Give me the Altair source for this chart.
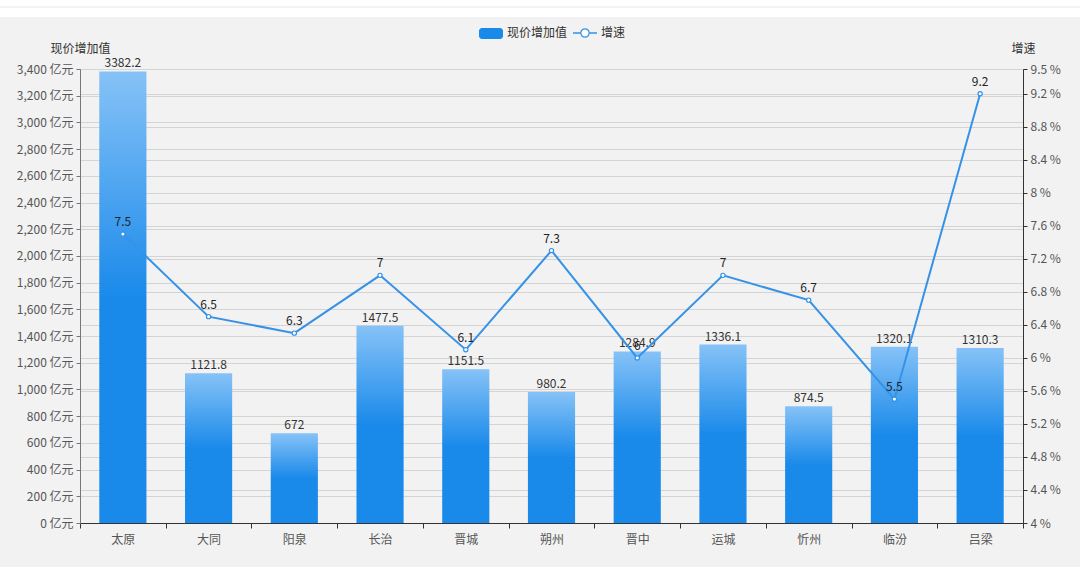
import altair as alt
import pandas as pd

cities = ["太原", "大同", "阳泉", "长治", "晋城", "朔州", "晋中", "运城", "忻州", "临汾", "吕梁"]
values = [3382.2, 1121.8, 672, 1477.5, 1151.5, 980.2, 1284.9, 1336.1, 874.5, 1320.1, 1310.3]
growth = [7.5, 6.5, 6.3, 7, 6.1, 7.3, 6, 7, 6.7, 5.5, 9.2]
left_ticks = list(range(0, 3401, 200))
right_ticks = [4, 4.4, 4.8, 5.2, 5.6, 6, 6.4, 6.8, 7.2, 7.6, 8, 8.4, 8.8, 9.2, 9.5]

df = pd.DataFrame({"city": cities, "value": values, "growth": growth})

FONT = "Noto Sans CJK SC"
W, H = 943, 454
BLUE = "#1a8aea"
LINE = "#3592e6"

x_enc = alt.X("city:N", sort=cities, title=None,
              scale=alt.Scale(paddingInner=0, paddingOuter=0),
              axis=alt.Axis(labelAngle=0, tickBand="extent", domainColor="#333333",
                            tickColor="#333333", tickSize=5, labelPadding=6,
                            labelFontSize=12, labelColor="#555555", grid=False))

y_left = alt.Y("value:Q", title="现价增加值",
               scale=alt.Scale(domain=[0, 3400], nice=False),
               axis=alt.Axis(values=left_ticks, labelOverlap=False,
                             labelExpr="format(datum.value, ',') + ' 亿元'",
                             titleAngle=0, titleX=0, titleY=-21, titleAlign="center",
                             titleBaseline="middle", titleFontWeight="normal",
                             titleFontSize=12, titleColor="#333333",
                             labelFontSize=12, labelColor="#555555",
                             domainColor="#777777", tickColor="#777777", tickSize=4,
                             labelPadding=3, gridColor="#d4d4d4", grid=True))

bar_grad = alt.Gradient(gradient="linear", x1=0, x2=0, y1=0, y2=1,
                        stops=[alt.GradientStop(color="#86c2f7", offset=0),
                               alt.GradientStop(color=BLUE, offset=0.5),
                               alt.GradientStop(color=BLUE, offset=1)])

base = alt.Chart(df)
bars = base.mark_bar(color=bar_grad, width=alt.RelativeBandSize(0.55)).encode(x=x_enc, y=y_left)
bar_labels = base.mark_text(dy=-8, fontSize=12, color="#333333", font=FONT).encode(
    x=alt.X("city:N", sort=cities), y=y_left, text=alt.Text("value:Q"))
left_layer = alt.layer(bars, bar_labels)

y_right = alt.Y("growth:Q", title="增速",
                scale=alt.Scale(domain=[4, 9.5], nice=False, zero=False),
                axis=alt.Axis(orient="right", values=right_ticks, labelOverlap=False,
                              labelExpr="datum.value + ' %'",
                              titleAngle=0, titleX=0, titleY=-21, titleAlign="center",
                              titleBaseline="middle", titleFontWeight="normal",
                              titleFontSize=12, titleColor="#333333",
                              labelFontSize=12, labelColor="#555555",
                              domainColor="#333333", tickColor="#333333", tickSize=4,
                              labelPadding=3, gridColor="#d4d4d4", grid=True))

line = base.mark_line(color=LINE, strokeWidth=2).encode(x=alt.X("city:N", sort=cities), y=y_right)
pts = base.mark_point(filled=True, fill="white", stroke=LINE, strokeWidth=1.2, size=18, opacity=1).encode(
    x=alt.X("city:N", sort=cities), y=y_right)
line_labels = base.mark_text(dy=-12, fontSize=12, color="#222222", font=FONT).encode(
    x=alt.X("city:N", sort=cities), y=y_right, text=alt.Text("growth:Q"))
right_layer = alt.layer(line, pts, line_labels)

# decorations: top white strip and legend
top_white = alt.Chart(pd.DataFrame({"a": [0]})).mark_rect(color="white").encode(
    x=alt.value(-80), x2=alt.value(1000), y=alt.value(-69), y2=alt.value(-52))
top_line = alt.Chart(pd.DataFrame({"a": [0]})).mark_rule(color="#e6e6e6", strokeWidth=1).encode(
    x=alt.value(-80), x2=alt.value(1000), y=alt.value(-62))
leg_rect = alt.Chart(pd.DataFrame({"a": [0]})).mark_rect(color=BLUE, cornerRadius=3).encode(
    x=alt.value(399), x2=alt.value(423), y=alt.value(-41), y2=alt.value(-30))
leg_text1 = alt.Chart(pd.DataFrame({"t": ["现价增加值"]})).mark_text(
    align="left", baseline="middle", fontSize=12, color="#333333", font=FONT).encode(
    x=alt.value(427), y=alt.value(-36), text="t:N")
leg_line = alt.Chart(pd.DataFrame({"a": [0]})).mark_rule(color=LINE, strokeWidth=1.5).encode(
    x=alt.value(493), x2=alt.value(517), y=alt.value(-36))
leg_pt = alt.Chart(pd.DataFrame({"a": [0]})).mark_point(
    filled=True, fill="white", stroke=LINE, strokeWidth=1.2, size=70, opacity=1).encode(
    x=alt.value(505), y=alt.value(-36))
leg_text2 = alt.Chart(pd.DataFrame({"t": ["增速"]})).mark_text(
    align="left", baseline="middle", fontSize=12, color="#333333", font=FONT).encode(
    x=alt.value(521), y=alt.value(-36), text="t:N")
deco = alt.layer(top_white, top_line, leg_rect, leg_text1, leg_line, leg_pt, leg_text2)

chart = alt.layer(left_layer, right_layer, deco).resolve_scale(y="independent").properties(
    width=W, height=H,
    autosize=alt.AutoSizeParams(type="none"),
    padding={"left": 80, "top": 69, "right": 57, "bottom": 44},
    background="#f2f2f2",
).configure_view(stroke=None).configure(font=FONT).configure_axis(
    labelFont=FONT, titleFont=FONT, labelOverlap=False)

chart.save("out.html", embed_options={"renderer": "svg", "actions": False})
